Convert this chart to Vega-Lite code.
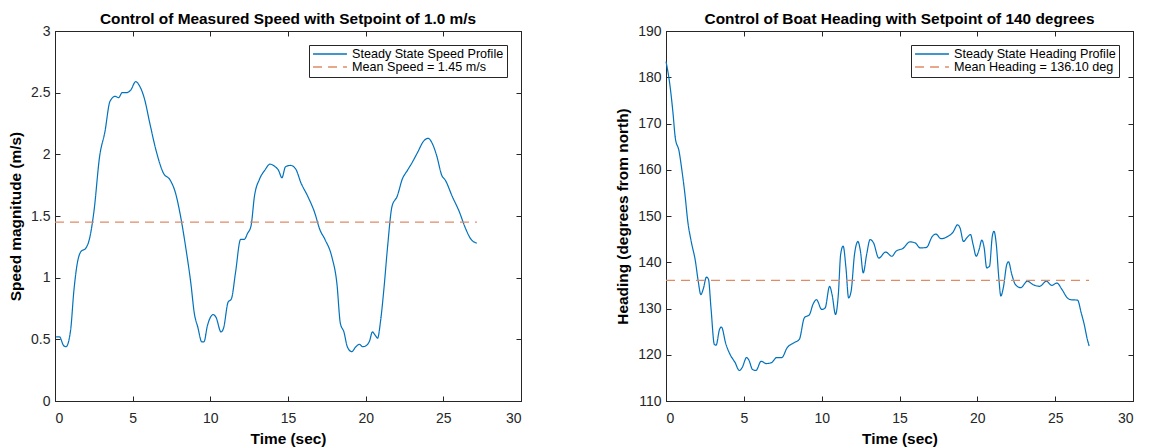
{
  "$schema": "https://vega.github.io/schema/vega-lite/v6.json",
  "background": "white",
  "padding": {"left": 8, "top": 11, "right": 5, "bottom": 0},
  "spacing": 93,
  "datasets": {
    "speed": [
      {"t":0.07,"v":0.52,"s":"Steady State Speed Profile"},
      {"t":0.29,"v":0.52,"s":"Steady State Speed Profile"},
      {"t":0.55,"v":0.45,"s":"Steady State Speed Profile"},
      {"t":0.71,"v":0.44,"s":"Steady State Speed Profile"},
      {"t":1.0,"v":0.57,"s":"Steady State Speed Profile"},
      {"t":1.22,"v":0.9,"s":"Steady State Speed Profile"},
      {"t":1.44,"v":1.12,"s":"Steady State Speed Profile"},
      {"t":1.66,"v":1.21,"s":"Steady State Speed Profile"},
      {"t":1.99,"v":1.24,"s":"Steady State Speed Profile"},
      {"t":2.21,"v":1.31,"s":"Steady State Speed Profile"},
      {"t":2.5,"v":1.53,"s":"Steady State Speed Profile"},
      {"t":2.88,"v":1.99,"s":"Steady State Speed Profile"},
      {"t":3.21,"v":2.18,"s":"Steady State Speed Profile"},
      {"t":3.54,"v":2.43,"s":"Steady State Speed Profile"},
      {"t":3.87,"v":2.47,"s":"Steady State Speed Profile"},
      {"t":4.1,"v":2.46,"s":"Steady State Speed Profile"},
      {"t":4.32,"v":2.5,"s":"Steady State Speed Profile"},
      {"t":4.58,"v":2.5,"s":"Steady State Speed Profile"},
      {"t":4.87,"v":2.52,"s":"Steady State Speed Profile"},
      {"t":5.2,"v":2.59,"s":"Steady State Speed Profile"},
      {"t":5.42,"v":2.56,"s":"Steady State Speed Profile"},
      {"t":5.76,"v":2.45,"s":"Steady State Speed Profile"},
      {"t":6.09,"v":2.26,"s":"Steady State Speed Profile"},
      {"t":6.53,"v":2.02,"s":"Steady State Speed Profile"},
      {"t":6.97,"v":1.85,"s":"Steady State Speed Profile"},
      {"t":7.42,"v":1.79,"s":"Steady State Speed Profile"},
      {"t":7.75,"v":1.69,"s":"Steady State Speed Profile"},
      {"t":8.08,"v":1.5,"s":"Steady State Speed Profile"},
      {"t":8.41,"v":1.25,"s":"Steady State Speed Profile"},
      {"t":8.75,"v":0.95,"s":"Steady State Speed Profile"},
      {"t":8.97,"v":0.71,"s":"Steady State Speed Profile"},
      {"t":9.19,"v":0.6,"s":"Steady State Speed Profile"},
      {"t":9.45,"v":0.48,"s":"Steady State Speed Profile"},
      {"t":9.59,"v":0.48,"s":"Steady State Speed Profile"},
      {"t":9.81,"v":0.61,"s":"Steady State Speed Profile"},
      {"t":10.18,"v":0.7,"s":"Steady State Speed Profile"},
      {"t":10.36,"v":0.68,"s":"Steady State Speed Profile"},
      {"t":10.69,"v":0.56,"s":"Steady State Speed Profile"},
      {"t":10.85,"v":0.59,"s":"Steady State Speed Profile"},
      {"t":11.14,"v":0.8,"s":"Steady State Speed Profile"},
      {"t":11.36,"v":0.83,"s":"Steady State Speed Profile"},
      {"t":11.62,"v":1.04,"s":"Steady State Speed Profile"},
      {"t":11.95,"v":1.31,"s":"Steady State Speed Profile"},
      {"t":12.18,"v":1.31,"s":"Steady State Speed Profile"},
      {"t":12.4,"v":1.36,"s":"Steady State Speed Profile"},
      {"t":12.62,"v":1.42,"s":"Steady State Speed Profile"},
      {"t":12.84,"v":1.66,"s":"Steady State Speed Profile"},
      {"t":13.17,"v":1.8,"s":"Steady State Speed Profile"},
      {"t":13.5,"v":1.87,"s":"Steady State Speed Profile"},
      {"t":13.84,"v":1.92,"s":"Steady State Speed Profile"},
      {"t":14.17,"v":1.9,"s":"Steady State Speed Profile"},
      {"t":14.39,"v":1.87,"s":"Steady State Speed Profile"},
      {"t":14.61,"v":1.81,"s":"Steady State Speed Profile"},
      {"t":14.84,"v":1.9,"s":"Steady State Speed Profile"},
      {"t":15.17,"v":1.91,"s":"Steady State Speed Profile"},
      {"t":15.5,"v":1.88,"s":"Steady State Speed Profile"},
      {"t":15.83,"v":1.77,"s":"Steady State Speed Profile"},
      {"t":16.27,"v":1.66,"s":"Steady State Speed Profile"},
      {"t":16.71,"v":1.53,"s":"Steady State Speed Profile"},
      {"t":17.05,"v":1.39,"s":"Steady State Speed Profile"},
      {"t":17.38,"v":1.31,"s":"Steady State Speed Profile"},
      {"t":17.82,"v":1.17,"s":"Steady State Speed Profile"},
      {"t":18.15,"v":0.95,"s":"Steady State Speed Profile"},
      {"t":18.37,"v":0.63,"s":"Steady State Speed Profile"},
      {"t":18.6,"v":0.56,"s":"Steady State Speed Profile"},
      {"t":18.82,"v":0.44,"s":"Steady State Speed Profile"},
      {"t":19.1,"v":0.4,"s":"Steady State Speed Profile"},
      {"t":19.37,"v":0.44,"s":"Steady State Speed Profile"},
      {"t":19.59,"v":0.46,"s":"Steady State Speed Profile"},
      {"t":19.81,"v":0.44,"s":"Steady State Speed Profile"},
      {"t":20.04,"v":0.45,"s":"Steady State Speed Profile"},
      {"t":20.26,"v":0.49,"s":"Steady State Speed Profile"},
      {"t":20.43,"v":0.56,"s":"Steady State Speed Profile"},
      {"t":20.63,"v":0.53,"s":"Steady State Speed Profile"},
      {"t":20.77,"v":0.51,"s":"Steady State Speed Profile"},
      {"t":20.96,"v":0.65,"s":"Steady State Speed Profile"},
      {"t":21.19,"v":0.93,"s":"Steady State Speed Profile"},
      {"t":21.41,"v":1.25,"s":"Steady State Speed Profile"},
      {"t":21.7,"v":1.58,"s":"Steady State Speed Profile"},
      {"t":22.03,"v":1.66,"s":"Steady State Speed Profile"},
      {"t":22.36,"v":1.8,"s":"Steady State Speed Profile"},
      {"t":22.69,"v":1.87,"s":"Steady State Speed Profile"},
      {"t":23.02,"v":1.94,"s":"Steady State Speed Profile"},
      {"t":23.36,"v":2.02,"s":"Steady State Speed Profile"},
      {"t":23.69,"v":2.1,"s":"Steady State Speed Profile"},
      {"t":24.02,"v":2.13,"s":"Steady State Speed Profile"},
      {"t":24.24,"v":2.1,"s":"Steady State Speed Profile"},
      {"t":24.57,"v":1.99,"s":"Steady State Speed Profile"},
      {"t":24.9,"v":1.83,"s":"Steady State Speed Profile"},
      {"t":25.13,"v":1.79,"s":"Steady State Speed Profile"},
      {"t":25.57,"v":1.66,"s":"Steady State Speed Profile"},
      {"t":26.01,"v":1.54,"s":"Steady State Speed Profile"},
      {"t":26.46,"v":1.39,"s":"Steady State Speed Profile"},
      {"t":26.79,"v":1.31,"s":"Steady State Speed Profile"},
      {"t":27.16,"v":1.28,"s":"Steady State Speed Profile"},
      {"t":0,"v":1.45,"s":"Mean Speed = 1.45 m/s"},
      {"t":27.16,"v":1.45,"s":"Mean Speed = 1.45 m/s"}
    ],
    "heading": [
      {"t":0,"v":183.4,"s":"Steady State Heading Profile"},
      {"t":0.22,"v":179.1,"s":"Steady State Heading Profile"},
      {"t":0.44,"v":172.6,"s":"Steady State Heading Profile"},
      {"t":0.6,"v":166.8,"s":"Steady State Heading Profile"},
      {"t":0.84,"v":164.0,"s":"Steady State Heading Profile"},
      {"t":1.0,"v":160.4,"s":"Steady State Heading Profile"},
      {"t":1.22,"v":154.6,"s":"Steady State Heading Profile"},
      {"t":1.4,"v":148.8,"s":"Steady State Heading Profile"},
      {"t":1.62,"v":144.5,"s":"Steady State Heading Profile"},
      {"t":1.89,"v":140.2,"s":"Steady State Heading Profile"},
      {"t":2.07,"v":135.9,"s":"Steady State Heading Profile"},
      {"t":2.24,"v":133.0,"s":"Steady State Heading Profile"},
      {"t":2.4,"v":134.3,"s":"Steady State Heading Profile"},
      {"t":2.6,"v":136.8,"s":"Steady State Heading Profile"},
      {"t":2.73,"v":136.3,"s":"Steady State Heading Profile"},
      {"t":2.89,"v":130.1,"s":"Steady State Heading Profile"},
      {"t":3.11,"v":122.2,"s":"Steady State Heading Profile"},
      {"t":3.22,"v":122.1,"s":"Steady State Heading Profile"},
      {"t":3.44,"v":125.5,"s":"Steady State Heading Profile"},
      {"t":3.56,"v":126.0,"s":"Steady State Heading Profile"},
      {"t":3.84,"v":122.4,"s":"Steady State Heading Profile"},
      {"t":4.11,"v":120.1,"s":"Steady State Heading Profile"},
      {"t":4.44,"v":118.3,"s":"Steady State Heading Profile"},
      {"t":4.71,"v":116.6,"s":"Steady State Heading Profile"},
      {"t":4.89,"v":117.2,"s":"Steady State Heading Profile"},
      {"t":5.18,"v":119.4,"s":"Steady State Heading Profile"},
      {"t":5.33,"v":118.8,"s":"Steady State Heading Profile"},
      {"t":5.56,"v":116.8,"s":"Steady State Heading Profile"},
      {"t":5.78,"v":116.6,"s":"Steady State Heading Profile"},
      {"t":6.11,"v":118.6,"s":"Steady State Heading Profile"},
      {"t":6.44,"v":118.1,"s":"Steady State Heading Profile"},
      {"t":6.78,"v":118.3,"s":"Steady State Heading Profile"},
      {"t":7.11,"v":119.4,"s":"Steady State Heading Profile"},
      {"t":7.44,"v":119.4,"s":"Steady State Heading Profile"},
      {"t":7.78,"v":121.5,"s":"Steady State Heading Profile"},
      {"t":8.22,"v":122.6,"s":"Steady State Heading Profile"},
      {"t":8.56,"v":123.3,"s":"Steady State Heading Profile"},
      {"t":8.89,"v":128.0,"s":"Steady State Heading Profile"},
      {"t":9.22,"v":128.7,"s":"Steady State Heading Profile"},
      {"t":9.44,"v":130.9,"s":"Steady State Heading Profile"},
      {"t":9.67,"v":131.9,"s":"Steady State Heading Profile"},
      {"t":10.0,"v":129.8,"s":"Steady State Heading Profile"},
      {"t":10.22,"v":130.1,"s":"Steady State Heading Profile"},
      {"t":10.51,"v":134.8,"s":"Steady State Heading Profile"},
      {"t":10.67,"v":133.0,"s":"Steady State Heading Profile"},
      {"t":10.89,"v":128.7,"s":"Steady State Heading Profile"},
      {"t":11.07,"v":133.0,"s":"Steady State Heading Profile"},
      {"t":11.22,"v":141.7,"s":"Steady State Heading Profile"},
      {"t":11.38,"v":143.5,"s":"Steady State Heading Profile"},
      {"t":11.56,"v":138.8,"s":"Steady State Heading Profile"},
      {"t":11.73,"v":132.3,"s":"Steady State Heading Profile"},
      {"t":11.89,"v":133.7,"s":"Steady State Heading Profile"},
      {"t":12.11,"v":141.7,"s":"Steady State Heading Profile"},
      {"t":12.33,"v":144.5,"s":"Steady State Heading Profile"},
      {"t":12.49,"v":142.4,"s":"Steady State Heading Profile"},
      {"t":12.67,"v":137.7,"s":"Steady State Heading Profile"},
      {"t":12.89,"v":141.7,"s":"Steady State Heading Profile"},
      {"t":13.11,"v":144.9,"s":"Steady State Heading Profile"},
      {"t":13.33,"v":144.2,"s":"Steady State Heading Profile"},
      {"t":13.67,"v":140.9,"s":"Steady State Heading Profile"},
      {"t":14.11,"v":142.2,"s":"Steady State Heading Profile"},
      {"t":14.51,"v":141.3,"s":"Steady State Heading Profile"},
      {"t":14.78,"v":142.4,"s":"Steady State Heading Profile"},
      {"t":15.22,"v":143.0,"s":"Steady State Heading Profile"},
      {"t":15.67,"v":144.4,"s":"Steady State Heading Profile"},
      {"t":16.0,"v":144.2,"s":"Steady State Heading Profile"},
      {"t":16.33,"v":143.1,"s":"Steady State Heading Profile"},
      {"t":16.73,"v":143.2,"s":"Steady State Heading Profile"},
      {"t":17.11,"v":145.6,"s":"Steady State Heading Profile"},
      {"t":17.33,"v":146.1,"s":"Steady State Heading Profile"},
      {"t":17.67,"v":145.1,"s":"Steady State Heading Profile"},
      {"t":18.11,"v":145.6,"s":"Steady State Heading Profile"},
      {"t":18.44,"v":146.5,"s":"Steady State Heading Profile"},
      {"t":18.73,"v":148.1,"s":"Steady State Heading Profile"},
      {"t":18.89,"v":147.4,"s":"Steady State Heading Profile"},
      {"t":19.11,"v":144.5,"s":"Steady State Heading Profile"},
      {"t":19.33,"v":145.3,"s":"Steady State Heading Profile"},
      {"t":19.56,"v":146.0,"s":"Steady State Heading Profile"},
      {"t":19.73,"v":143.8,"s":"Steady State Heading Profile"},
      {"t":19.93,"v":141.3,"s":"Steady State Heading Profile"},
      {"t":20.11,"v":142.7,"s":"Steady State Heading Profile"},
      {"t":20.29,"v":144.8,"s":"Steady State Heading Profile"},
      {"t":20.44,"v":143.1,"s":"Steady State Heading Profile"},
      {"t":20.6,"v":138.8,"s":"Steady State Heading Profile"},
      {"t":20.78,"v":139.1,"s":"Steady State Heading Profile"},
      {"t":20.96,"v":145.6,"s":"Steady State Heading Profile"},
      {"t":21.07,"v":146.7,"s":"Steady State Heading Profile"},
      {"t":21.22,"v":143.8,"s":"Steady State Heading Profile"},
      {"t":21.38,"v":136.6,"s":"Steady State Heading Profile"},
      {"t":21.51,"v":132.7,"s":"Steady State Heading Profile"},
      {"t":21.67,"v":134.5,"s":"Steady State Heading Profile"},
      {"t":21.89,"v":139.5,"s":"Steady State Heading Profile"},
      {"t":22.0,"v":140.1,"s":"Steady State Heading Profile"},
      {"t":22.22,"v":137.3,"s":"Steady State Heading Profile"},
      {"t":22.44,"v":135.2,"s":"Steady State Heading Profile"},
      {"t":22.78,"v":134.5,"s":"Steady State Heading Profile"},
      {"t":23.22,"v":135.9,"s":"Steady State Heading Profile"},
      {"t":23.56,"v":135.2,"s":"Steady State Heading Profile"},
      {"t":24.0,"v":134.8,"s":"Steady State Heading Profile"},
      {"t":24.44,"v":135.9,"s":"Steady State Heading Profile"},
      {"t":24.78,"v":135.0,"s":"Steady State Heading Profile"},
      {"t":25.11,"v":135.5,"s":"Steady State Heading Profile"},
      {"t":25.44,"v":134.1,"s":"Steady State Heading Profile"},
      {"t":25.78,"v":132.3,"s":"Steady State Heading Profile"},
      {"t":26.0,"v":131.9,"s":"Steady State Heading Profile"},
      {"t":26.44,"v":131.8,"s":"Steady State Heading Profile"},
      {"t":26.67,"v":129.1,"s":"Steady State Heading Profile"},
      {"t":26.89,"v":126.2,"s":"Steady State Heading Profile"},
      {"t":27.04,"v":123.7,"s":"Steady State Heading Profile"},
      {"t":27.18,"v":121.9,"s":"Steady State Heading Profile"},
      {"t":0,"v":136.1,"s":"Mean Heading = 136.10 deg"},
      {"t":27.18,"v":136.1,"s":"Mean Heading = 136.10 deg"}
    ]
  },
  "hconcat": [
    {
      "width": 466,
      "height": 370,
      "title": {"text": "Control of Measured Speed with Setpoint of 1.0 m/s"},
      "data": {"name": "speed"},
      "layer": [
        {
          "mark": {"type": "line", "strokeWidth": 1.2, "interpolate": "monotone"},
          "encoding": {
            "x": {"field": "t", "type": "quantitative", "scale": {"domain": [0, 30], "nice": false},
                  "axis": {"orient": "bottom", "title": "Time (sec)", "values": [0,5,10,15,20,25,30]}},
            "y": {"field": "v", "type": "quantitative", "scale": {"domain": [0, 3], "nice": false},
                  "axis": {"orient": "left", "title": "Speed magnitude (m/s)", "values": [0,0.5,1,1.5,2,2.5,3], "format": "~g"}},
            "color": {"field": "s", "type": "nominal",
                      "scale": {"domain": ["Steady State Speed Profile", "Mean Speed = 1.45 m/s"], "range": ["#0072BD", "#E08A66"]},
                      "legend": {"title": null}},
            "strokeDash": {"field": "s", "type": "nominal",
                      "scale": {"domain": ["Steady State Speed Profile", "Mean Speed = 1.45 m/s"], "range": [[1, 0], [9, 6]]},
                      "legend": {"title": null}}
          }
        },
        {
          "mark": {"type": "point", "opacity": 0},
          "encoding": {
            "x": {"field": "t", "type": "quantitative", "axis": {"orient": "top", "title": null, "labels": false, "values": [0,5,10,15,20,25,30]}},
            "y": {"field": "v", "type": "quantitative", "axis": {"orient": "right", "title": null, "labels": false, "values": [0,0.5,1,1.5,2,2.5,3]}}
          }
        }
      ],
      "resolve": {"axis": {"x": "independent", "y": "independent"}}
    },
    {
      "width": 467,
      "height": 370,
      "title": {"text": "Control of Boat Heading with Setpoint of 140 degrees"},
      "data": {"name": "heading"},
      "layer": [
        {
          "mark": {"type": "line", "strokeWidth": 1.2, "interpolate": "monotone"},
          "encoding": {
            "x": {"field": "t", "type": "quantitative", "scale": {"domain": [0, 30], "nice": false},
                  "axis": {"orient": "bottom", "title": "Time (sec)", "values": [0,5,10,15,20,25,30]}},
            "y": {"field": "v", "type": "quantitative", "scale": {"domain": [110, 190], "nice": false},
                  "axis": {"orient": "left", "title": "Heading (degrees from north)", "values": [110,120,130,140,150,160,170,180,190]}},
            "color": {"field": "s", "type": "nominal",
                      "scale": {"domain": ["Steady State Heading Profile", "Mean Heading = 136.10 deg"], "range": ["#0072BD", "#E08A66"]},
                      "legend": {"title": null}},
            "strokeDash": {"field": "s", "type": "nominal",
                      "scale": {"domain": ["Steady State Heading Profile", "Mean Heading = 136.10 deg"], "range": [[1, 0], [9, 6]]},
                      "legend": {"title": null}}
          }
        },
        {
          "mark": {"type": "point", "opacity": 0},
          "encoding": {
            "x": {"field": "t", "type": "quantitative", "axis": {"orient": "top", "title": null, "labels": false, "values": [0,5,10,15,20,25,30]}},
            "y": {"field": "v", "type": "quantitative", "axis": {"orient": "right", "title": null, "labels": false, "values": [110,120,130,140,150,160,170,180,190]}}
          }
        }
      ],
      "resolve": {"axis": {"x": "independent", "y": "independent"}}
    }
  ],
  "resolve": {"scale": {"color": "independent", "strokeDash": "independent"}},
  "config": {
    "font": "Liberation Sans",
    "view": {"stroke": "#262626", "strokeWidth": 1},
    "axis": {
      "grid": false,
      "domainColor": "#262626",
      "tickColor": "#262626",
      "tickSize": -5,
      "labelColor": "#262626",
      "labelFontSize": 14,
      "labelFont": "Liberation Sans",
      "titleFont": "Liberation Sans",
      "titleFontSize": 15.4,
      "titleFontWeight": "bold",
      "titleColor": "#000000"
    },
    "axisX": {"labelPadding": 15, "titlePadding": 6},
    "axisY": {"labelPadding": 10, "titlePadding": 7},
    "title": {"font": "Liberation Sans", "fontSize": 15.4, "fontWeight": "bold", "color": "#000000", "offset": -3},
    "legend": {
      "orient": "top-right",
      "offset": 14,
      "strokeColor": "#262626",
      "fillColor": "white",
      "padding": 3,
      "labelFont": "Liberation Sans",
      "labelFontSize": 12.6,
      "labelColor": "#000000",
      "labelOffset": 4,
      "labelLimit": 400,
      "symbolType": "stroke",
      "symbolSize": 1150,
      "symbolStrokeWidth": 1.3,
      "clipHeight": 12,
      "rowPadding": 0
    }
  }
}
